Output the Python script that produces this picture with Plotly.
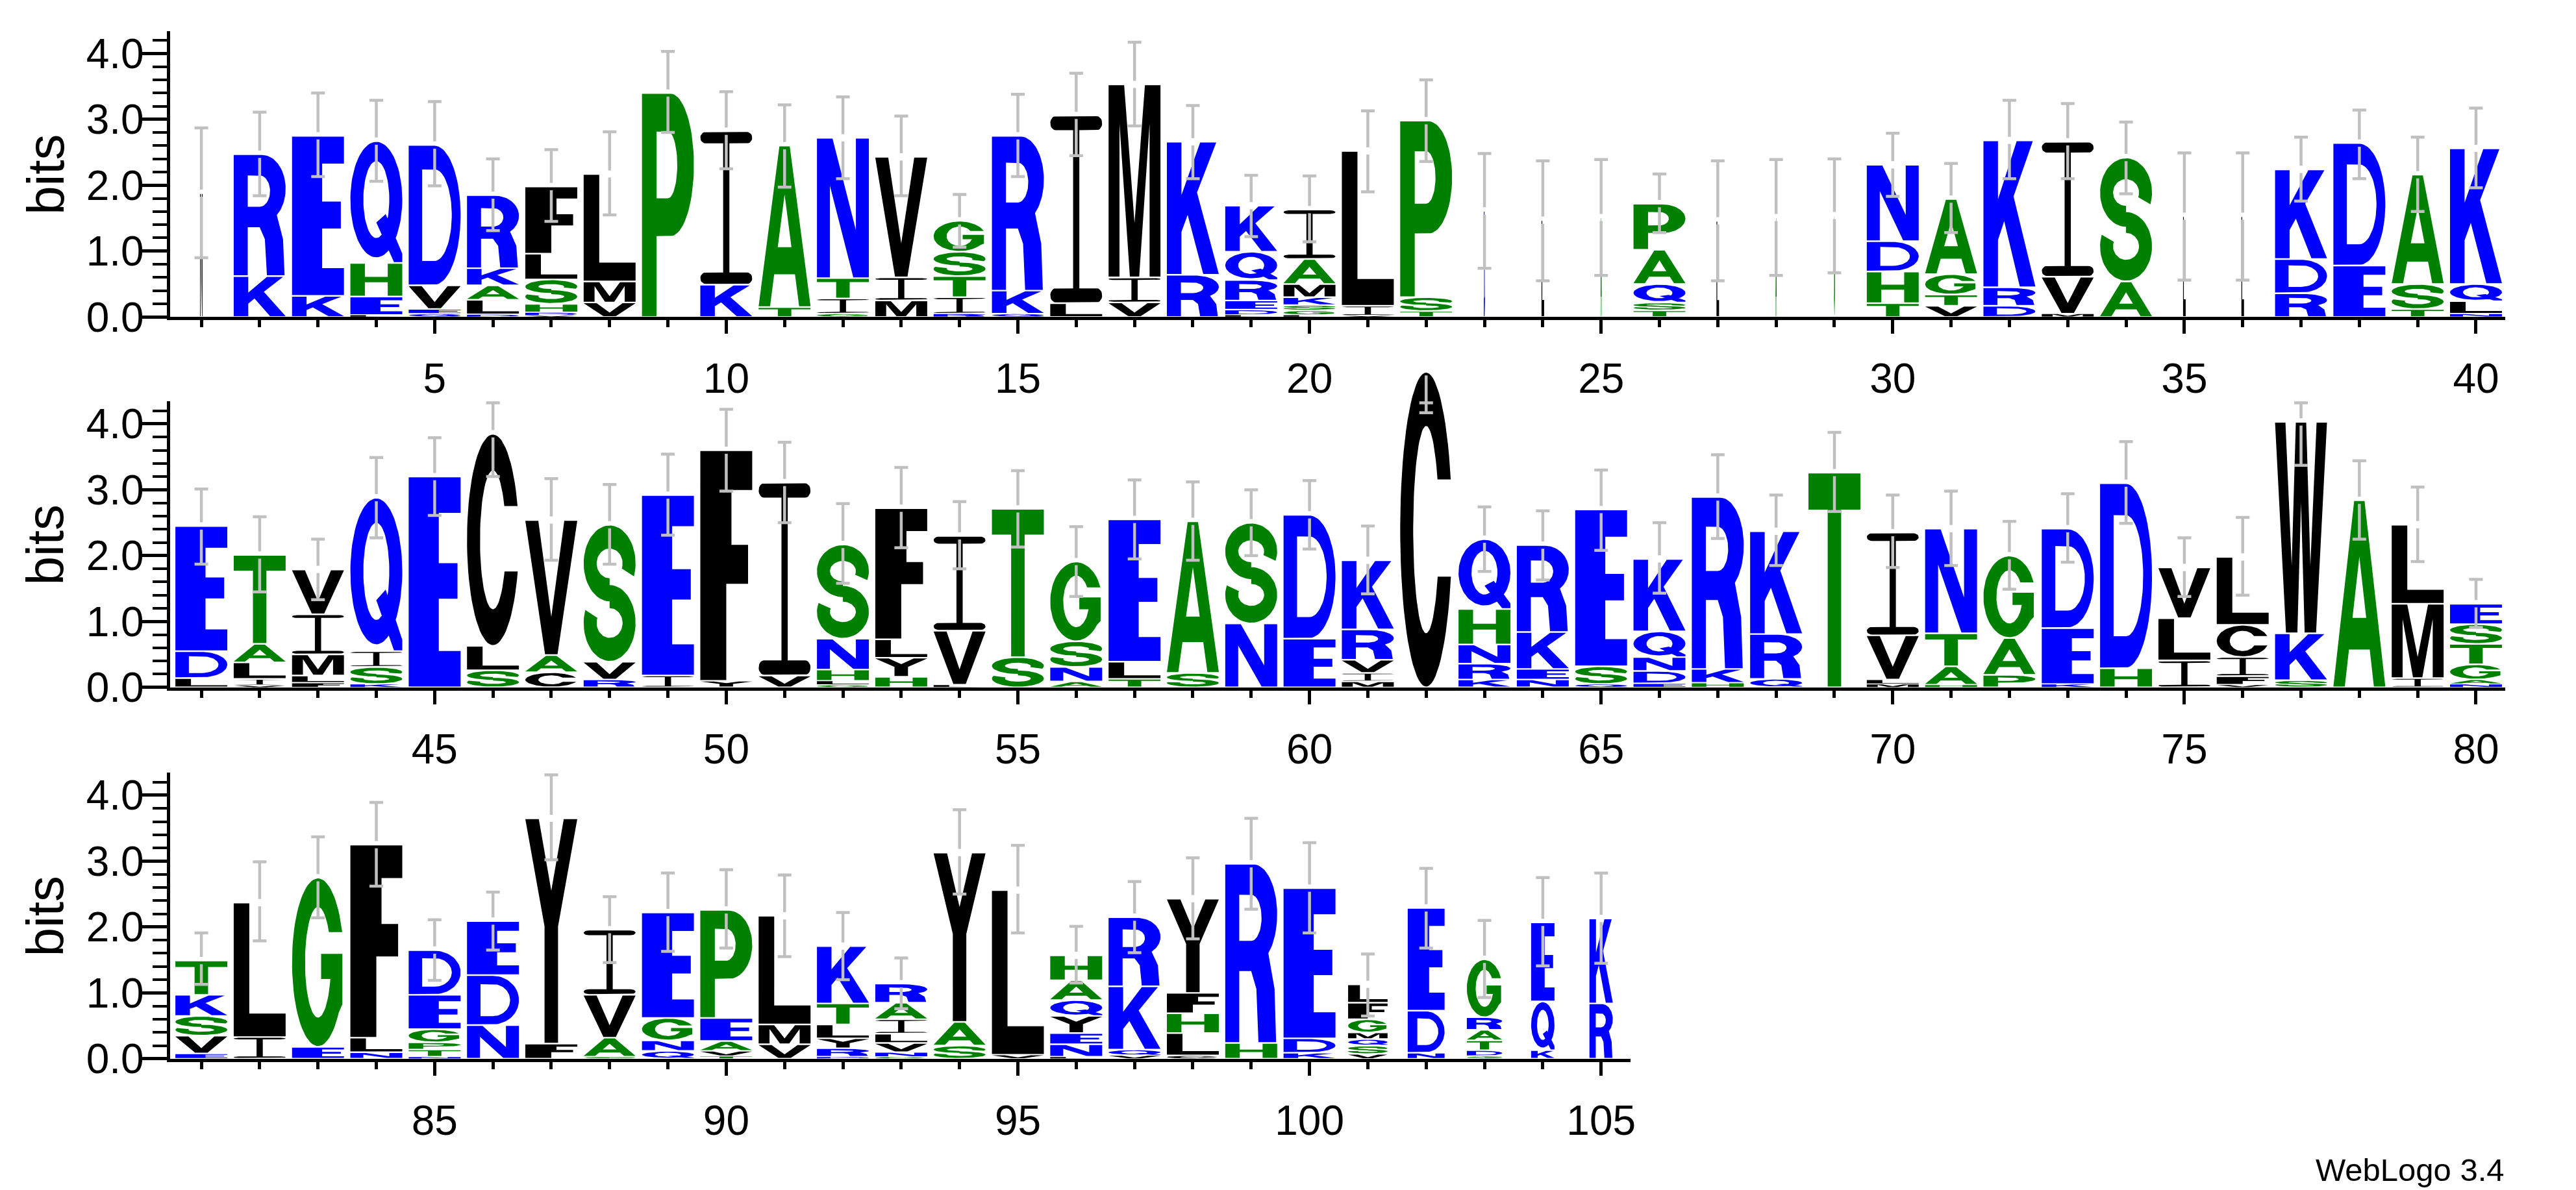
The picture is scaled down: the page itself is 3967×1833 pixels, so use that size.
import numpy as np
import plotly.graph_objects as go

# Sequence logo.
# Each stack: letters from bottom to top, with the height (bits) of each letter.
stack_letters = [
    "M", "KR", "KE", "LEHQ", "QEVD", "DLAKR", "VDHSLF", "VML", "P", "KI",
    "TA", "GITN", "MIV", "RITSG", "QKR", "LI", "VIM", "RK", "LDERQK", "LGSKMAI",
    "VIL", "TSP", "D", "L", "A", "TSQAP", "L", "A", "G", "THDN",
    "VTGA", "DRK", "MVI", "AS", "L", "L", "RDK", "ED", "TSA", "NLQK",
    "LDE", "VILAT", "FLMIV", "KSIQ", "E", "SLC", "CAV", "RVS", "IE", "YF",
    "VI", "GLHNS", "HYLF", "LVI", "ST", "ANSG", "TLE", "SA", "NS", "ED",
    "MIVRK", "C", "KRNHQ", "NEKR", "QSE", "EDNQK", "HKR", "QRK", "T", "MLVI",
    "HATN", "PAG", "KED", "HD", "ILV", "VFICL", "SKW", "A", "IML", "NAGTSE",
    "EVSKT", "IL", "EG", "NLF", "NTPGED", "NDE", "FY", "SAVI", "QNGE", "TVAEP",
    "VML", "DRYLTK", "GNVLIAR", "SAY", "VL", "LNEYQAH", "VQKR", "CLHFY", "HR", "KDE",
    "VSQMGFL", "NDE", "SDTARG", "KQE", "RK",
]

stack_heights = [
    [1.88], [0.62, 1.85], [0.32, 2.43], [0.03, 0.28, 0.51, 1.85], [0.05, 0.07, 0.36, 2.13],
    [0.04, 0.22, 0.22, 0.26, 1.11], [0.02, 0.05, 0.13, 0.37, 0.39, 1.02], [0.22, 0.32, 1.63],
    [3.40], [0.49, 2.33],
    [0.15, 2.45], [0.05, 0.23, 0.31, 2.13], [0.25, 0.35, 1.83], [0.05, 0.25, 0.32, 0.37, 0.47],
    [0.05, 0.35, 2.35], [0.21, 2.85], [0.22, 0.38, 2.93], [0.64, 2.02],
    [0.03, 0.08, 0.14, 0.31, 0.43, 0.70], [0.03, 0.07, 0.08, 0.12, 0.20, 0.38, 0.75],
    [0.02, 0.15, 2.35], [0.09, 0.21, 2.68], [1.61], [1.47], [1.51],
    [0.10, 0.12, 0.28, 0.52, 0.70], [1.46], [1.51], [1.54], [0.21, 0.48, 0.46, 1.16],
    [0.17, 0.17, 0.31, 1.14], [0.17, 0.28, 2.23], [0.05, 0.56, 2.05], [0.54, 1.88], [1.53],
    [1.53], [0.36, 0.52, 1.36], [0.78, 1.86], [0.12, 0.38, 1.66], [0.05, 0.19, 0.26, 2.06],
    [0.14, 0.41, 1.90], [0.03, 0.10, 0.25, 0.28, 1.35], [0.07, 0.11, 0.32, 0.61, 0.68],
    [0.05, 0.26, 0.24, 2.33], [3.20], [0.26, 0.37, 3.22], [0.23, 0.26, 2.05], [0.12, 0.27, 2.08],
    [0.18, 2.74], [0.10, 3.50],
    [0.18, 2.93], [0.04, 0.06, 0.17, 0.47, 1.43], [0.16, 0.29, 0.28, 1.99], [0.04, 0.82, 1.44],
    [0.46, 2.25], [0.09, 0.22, 0.39, 1.21], [0.13, 0.26, 2.16], [0.22, 2.30], [0.97, 1.53],
    [0.74, 1.88],
    [0.09, 0.13, 0.20, 0.46, 1.05], [4.79], [0.12, 0.24, 0.29, 0.54, 1.06], [0.12, 0.16, 0.56, 1.32],
    [0.05, 0.27, 2.38], [0.06, 0.19, 0.21, 0.39, 1.10], [0.07, 0.21, 2.61], [0.13, 0.68, 1.56],
    [3.26], [0.05, 0.07, 0.67, 1.56],
    [0.04, 0.28, 0.50, 1.59], [0.19, 0.56, 1.25], [0.05, 0.85, 1.51], [0.29, 2.81],
    [0.41, 0.64, 0.77], [0.04, 0.13, 0.29, 0.49, 1.03], [0.11, 0.71, 3.21], [2.84],
    [0.14, 1.13, 1.20], [0.05, 0.07, 0.23, 0.31, 0.30, 0.31],
    [0.08, 0.27, 0.30, 0.32, 0.52], [0.33, 2.04], [0.18, 2.57], [0.10, 0.22, 2.93],
    [0.03, 0.11, 0.11, 0.20, 0.52, 0.68], [0.51, 0.76, 0.82], [0.23, 3.42], [0.03, 0.29, 0.65, 0.99],
    [0.12, 0.16, 0.34, 1.60], [0.04, 0.08, 0.15, 0.35, 1.64],
    [0.22, 0.30, 1.65], [0.03, 0.13, 0.15, 0.21, 0.32, 0.87], [0.03, 0.07, 0.14, 0.14, 0.22, 0.25, 0.29],
    [0.20, 0.36, 2.57], [0.06, 2.50], [0.03, 0.19, 0.17, 0.26, 0.24, 0.30, 0.38],
    [0.05, 0.09, 0.96, 1.05], [0.05, 0.34, 0.30, 0.31, 1.43], [0.24, 2.72], [0.09, 0.22, 2.28],
    [0.07, 0.13, 0.10, 0.10, 0.20, 0.25, 0.28], [0.09, 0.64, 1.56], [0.04, 0.09, 0.15, 0.16, 0.19, 0.88],
    [0.13, 0.74, 1.20], [0.84, 1.29],
]

# relative stack width (gappy columns are drawn narrower)
stack_widths = [
    0.05, 1, 1, 1, 1, 1, 1, 1, 1, 1,
    1, 1, 1, 1, 1, 1, 1, 1, 1, 1,
    1, 1, 0.025, 0.05, 0.025, 1, 0.05, 0.025, 0.025, 1,
    1, 1, 1, 1, 0.05, 0.05, 1, 1, 1, 1,
    1, 1, 1, 1, 1, 1, 1, 1, 1, 1,
    1, 1, 1, 1, 1, 1, 1, 1, 1, 1,
    1, 1, 1, 1, 1, 1, 1, 1, 1, 1,
    1, 1, 1, 1, 1, 1, 1, 1, 1, 1,
    1, 1, 1, 1, 1, 1, 1, 1, 1, 1,
    1, 1, 1, 1, 1, 1, 1, 1, 1, 1,
    0.76, 0.71, 0.68, 0.45, 0.45,
]

err_low = [
    0.90, 1.84, 2.13, 2.06, 1.99, 1.31, 1.45, 1.55, 2.80, 2.25,
    1.97, 2.10, 1.84, 1.06, 2.13, 2.45, 2.90, 2.10, 1.22, 1.14,
    1.90, 2.36, 0.74, 0.55, 0.63, 1.28, 0.55, 0.63, 0.67, 1.83,
    1.28, 2.10, 2.10, 1.87, 0.56, 0.56, 1.76, 2.10, 1.60, 1.96,
    1.87, 1.45, 1.33, 2.27, 2.61, 3.20, 1.93, 1.87, 2.31, 2.98,
    2.50, 1.58, 2.12, 1.80, 2.13, 1.38, 1.95, 1.93, 2.00, 2.10,
    1.42, 4.17, 1.76, 1.63, 2.08, 1.43, 2.26, 1.85, 2.67, 1.82,
    1.85, 1.49, 1.90, 2.49, 1.38, 1.40, 3.37, 2.25, 1.91, 0.91,
    1.13, 1.79, 2.14, 2.62, 1.19, 1.65, 3.02, 1.46, 1.63, 1.68,
    1.55, 1.20, 0.76, 2.50, 1.91, 1.15, 1.61, 1.82, 2.27, 1.91,
    0.65, 1.68, 0.93, 1.41, 1.45,
]
err_high = [
    2.87, 3.11, 3.40, 3.29, 3.27, 2.40, 2.54, 2.81, 4.03, 3.42,
    3.22, 3.34, 3.05, 1.86, 3.38, 3.70, 4.17, 3.21, 2.15, 2.14,
    3.13, 3.60, 2.48, 2.37, 2.39, 2.17, 2.37, 2.39, 2.40, 2.79,
    2.33, 3.29, 3.24, 2.96, 2.49, 2.49, 2.73, 3.14, 2.73, 3.17,
    3.01, 2.59, 2.25, 3.49, 3.79, 4.32, 3.17, 3.08, 3.54, 4.22,
    3.72, 2.79, 3.34, 2.82, 3.29, 2.44, 3.15, 3.12, 3.00, 3.14,
    2.45, 4.32, 2.74, 2.68, 3.30, 2.50, 3.53, 2.92, 3.87, 2.92,
    2.98, 2.52, 2.94, 3.73, 2.27, 2.58, 4.32, 3.44, 3.04, 1.64,
    1.91, 2.99, 3.37, 3.89, 2.11, 2.53, 4.31, 2.46, 2.82, 2.87,
    2.79, 2.22, 1.53, 3.78, 3.24, 2.01, 2.69, 3.05, 3.65, 3.28,
    1.59, 2.89, 2.10, 2.75, 2.82,
]

# WebLogo "hydrophobicity" colour scheme
COLORS = {"#0000ff": "RKDENQ", "#008000": "SGHTAP", "#000000": "YVMCLFIW"}
letter_color = {ch: c for c, group in COLORS.items() for ch in group}

# ---------------- glyph outlines in a unit box ----------------
pi = np.pi
asin = np.arcsin


def arc(cx, cy, rx, ry, a0, a1, n=40):
    t = np.linspace(a0, a1, n)
    return list(zip(cx + rx * np.cos(t), cy + ry * np.sin(t)))


def band(cx, cy, rxo, ryo, rxi, ryi, a0, a1, n=50):
    return arc(cx, cy, rxo, ryo, a0, a1, n) + arc(cx, cy, rxi, ryi, a1, a0, n)


def signed_area(ring):
    x = np.array([p[0] for p in ring])
    y = np.array([p[1] for p in ring])
    return 0.5 * np.sum(x * np.roll(y, -1) - np.roll(x, -1) * y)


def shape(outer, *holes):
    # outer rings counter-clockwise, holes clockwise -> holes under either fill rule
    rings = [outer if signed_area(outer) > 0 else outer[::-1]]
    for h in holes:
        rings.append(h if signed_area(h) < 0 else h[::-1])
    return rings


def glyph_I(bt=0.075, rx=0.1, s0=0.44, s1=0.56):
    r = [(rx, 0), (1 - rx, 0)]
    r += arc(1 - rx, bt / 2, rx, bt / 2, -pi / 2, pi / 2, 12)[1:-1]
    r += [(1 - rx, bt), (s1, bt), (s1, 1 - bt), (1 - rx, 1 - bt)]
    r += arc(1 - rx, 1 - bt / 2, rx, bt / 2, -pi / 2, pi / 2, 12)[1:-1]
    r += [(1 - rx, 1), (rx, 1)]
    r += arc(rx, 1 - bt / 2, rx, bt / 2, pi / 2, 1.5 * pi, 12)[1:-1]
    r += [(rx, 1 - bt), (s0, 1 - bt), (s0, bt), (rx, bt)]
    r += arc(rx, bt / 2, rx, bt / 2, pi / 2, 1.5 * pi, 12)[1:-1]
    return [shape(r)]


GLYPHS = {
    "A": [shape([(0, 0), (0.22, 0), (0.30, 0.2), (0.70, 0.2), (0.78, 0), (1, 0), (0.6, 1), (0.4, 1)],
                [(0.368, 0.37), (0.632, 0.37), (0.5, 0.70)])],
    "C": [shape(arc(.5, .5, .5, .5, asin(0.32), 2 * pi - asin(0.30), 70)
                + arc(.5, .5, .25, .33, 2 * pi - asin(0.15 / 0.33), asin(0.16 / 0.33), 70))],
    "D": [shape([(0, 0), (0.5, 0)] + arc(.5, .5, .5, .5, -pi / 2, pi / 2) + [(0, 1)],
                [(0.26, 0.17), (0.5, 0.17)] + arc(.5, .5, .33, .33, -pi / 2, pi / 2) + [(0.26, 0.83)])],
    "E": [shape([(0, 0), (1, 0), (1, 0.17), (0.58, 0.17), (0.58, 0.42), (0.94, 0.42), (0.94, 0.59),
                 (0.58, 0.59), (0.58, 0.83), (1, 0.83), (1, 1), (0, 1)])],
    "F": [shape([(0, 0), (0.50, 0), (0.50, 0.42), (0.92, 0.42), (0.92, 0.59), (0.60, 0.59),
                 (0.60, 0.83), (1, 0.83), (1, 1), (0, 1)])],
    "G": [shape(arc(.5, .5, .5, .5, asin(0.36), 2 * pi - asin(0.6), 70)
                + [(0.97, 0.25), (0.97, 0.55), (0.56, 0.55), (0.56, 0.40)]
                + arc(.5, .5, .25, .33, 2 * pi - asin(0.1 / 0.33), asin(0.18 / 0.33), 70))],
    "H": [shape([(0, 0), (0.28, 0), (0.28, 0.42), (0.72, 0.42), (0.72, 0), (1, 0), (1, 1), (0.72, 1),
                 (0.72, 0.59), (0.28, 0.59), (0.28, 1), (0, 1)])],
    "I": glyph_I(),
    "K": [shape([(0, 0), (0.28, 0), (0.28, 0.32), (0.40, 0.45), (0.70, 0), (1, 0), (0.58, 0.62),
                 (0.95, 1), (0.64, 1), (0.28, 0.60), (0.28, 1), (0, 1)])],
    "L": [shape([(0, 0), (1, 0), (1, 0.17), (0.3, 0.17), (0.3, 1), (0, 1)])],
    "M": [shape([(0, 0), (0.21, 0), (0.21, 0.80), (0.41, 0), (0.59, 0), (0.79, 0.80), (0.79, 0),
                 (1, 0), (1, 1), (0.70, 1), (0.5, 0.28), (0.30, 1), (0, 1)])],
    "N": [shape([(0, 0), (0.25, 0), (0.25, 0.66), (0.70, 0), (1, 0), (1, 1), (0.75, 1), (0.75, 0.34),
                 (0.30, 1), (0, 1)])],
    "P": [shape([(0, 0), (0.28, 0), (0.28, 0.36), (0.55, 0.36)] + arc(.55, .68, .45, .32, -pi / 2, pi / 2)
                + [(0, 1)],
                [(0.28, 0.53), (0.5, 0.53)] + arc(.5, .68, .18, .15, -pi / 2, pi / 2, 30) + [(0.28, 0.83)])],
    "Q": [shape(arc(.5, .52, .5, .48, 0, 2 * pi, 90)[:-1], arc(.5, .52, .25, .32, 0, 2 * pi, 70)[:-1]),
          shape([(0.50, 0.33), (0.68, 0.40), (1.0, 0.07), (1.0, 0.0), (0.84, 0.0)])],
    "R": [shape([(0, 0), (0.27, 0), (0.27, 0.40), (0.50, 0.40), (0.60, 0.30), (0.64, 0), (0.98, 0),
                 (0.95, 0.30)] + arc(.55, .72, .45, .28, -0.9, pi / 2) + [(0, 1)],
                [(0.27, 0.57), (0.5, 0.57)] + arc(.5, .70, .2, .13, -pi / 2, pi / 2, 30) + [(0.27, 0.83)])],
    "S": [shape(band(.5, .72, .5, .28, .25, .11, -0.35, 1.5 * pi)),
          shape(band(.5, .28, .5, .28, .25, .11, 0.5 * pi, -pi - 0.35))],
    "T": [shape([(0, 1), (0, 0.83), (0.37, 0.83), (0.37, 0), (0.63, 0), (0.63, 0.83), (1, 0.83), (1, 1)])],
    "V": [shape([(0, 1), (0.38, 0), (0.62, 0), (1, 1), (0.75, 1), (0.5, 0.28), (0.25, 1)])],
    "W": [shape([(0, 1), (0.21, 0), (0.43, 0), (0.5, 0.62), (0.57, 0), (0.79, 0), (1, 1), (0.80, 1),
                 (0.68, 0.32), (0.60, 1), (0.40, 1), (0.32, 0.32), (0.20, 1)])],
    "Y": [shape([(0.37, 0), (0.63, 0), (0.63, 0.52), (1, 1), (0.74, 1), (0.5, 0.68), (0.26, 1), (0, 1),
                 (0.37, 0.52)])],
}

# ---------------- layout geometry (pixels of the 3967 x 1833 page) ----------------
W, H = 3967, 1833
PX_PER_POS = 90.0
PX_PER_BIT = 103.5
Y_MAX = 4.34
AXIS_LEFT_PX = 263
rows = [(1, 40, 498.0), (41, 80, 1080.0), (81, 105, 1663.5)]  # first, last, zero-line px
EXTRA = 0.026  # extra paper height for letters that overshoot the axis top
COL_W = 0.89   # letter width as a fraction of column pitch
ERR_GAP = 0.055
CAP_HALF = 0.117
FONT = "Liberation Sans, Arial, Helvetica, sans-serif"

fig = go.Figure()
layout = {}
annotations = []

for r, (first, last, zero_px) in enumerate(rows):
    n = r + 1
    xa, ya, la = f"x{n if n > 1 else ''}", f"y{n if n > 1 else ''}", f"y{n + 3}"
    x_lo, x_hi = first - 0.53, last + 0.5
    xd0 = AXIS_LEFT_PX / W
    xd1 = (AXIS_LEFT_PX + (x_hi - x_lo) * PX_PER_POS) / W
    yd0 = 1 - zero_px / H
    yd1 = 1 - (zero_px - Y_MAX * PX_PER_BIT) / H
    ld1 = min(yd1 + EXTRA, 1.0)

    layout[f"xaxis{n if n > 1 else ''}"] = dict(
        domain=[xd0, xd1], range=[x_lo, x_hi], anchor=ya,
        showline=True, linewidth=5, linecolor="black", showgrid=False, zeroline=False,
        ticks="outside", tick0=0, dtick=5, ticklen=21, tickwidth=5, tickcolor="black",
        ticklabelstandoff=14,
        tickfont=dict(family=FONT, size=64, color="black"),
        minor=dict(ticks="outside", tick0=0, dtick=1, ticklen=11, tickwidth=5, tickcolor="black"),
        fixedrange=True,
    )
    layout[f"yaxis{n if n > 1 else ''}"] = dict(
        domain=[yd0, yd1], range=[0, Y_MAX], anchor=xa,
        showline=True, linewidth=5, linecolor="black", showgrid=False, zeroline=False,
        ticks="outside", tick0=0, dtick=1, tickformat=".1f", ticklen=41, tickwidth=5,
        tickcolor="black", ticklabelstandoff=-18,
        tickfont=dict(family=FONT, size=64, color="black"),
        minor=dict(ticks="outside", tick0=0, dtick=0.2, ticklen=22, tickwidth=4, tickcolor="black"),
        fixedrange=True,
    )
    # invisible, taller twin axis that carries the letters (so tall stacks are not clipped)
    layout[f"yaxis{n + 3}"] = dict(
        domain=[yd0, ld1], range=[0, Y_MAX * (ld1 - yd0) / (yd1 - yd0)], anchor=xa,
        visible=False, fixedrange=True,
    )

    fig.add_trace(go.Scatter(x=[None], y=[None], xaxis=xa, yaxis=ya,
                             showlegend=False, hoverinfo="skip"))

    paths = {c: ([], []) for c in COLORS}
    ex, ey = [], []
    for p in range(first, last + 1):
        i = p - 1
        letters, heights = stack_letters[i], stack_heights[i]
        w = COL_W * stack_widths[i]
        base = 0.0
        for ch, h in zip(letters, heights, strict=True):
            inset = min(0.012, 0.12 * h)
            y0, y1 = base + inset, base + h - inset
            xs, ys = paths[letter_color[ch]]
            for shp in GLYPHS[ch]:
                for ring in shp:
                    for u, v in ring + ring[:1]:
                        xs.append(p - w / 2 + u * w)
                        ys.append(y0 + v * (y1 - y0))
                    xs.append(None)
                    ys.append(None)
            base += h
        top = base
        lo, hi = err_low[i], err_high[i]
        if top - ERR_GAP > lo:
            ex += [p, p, None]
            ey += [lo, top - ERR_GAP, None]
        if hi > top + ERR_GAP:
            ex += [p, p, None]
            ey += [top + ERR_GAP, hi, None]
        for yc in (lo, hi):
            ex += [p - CAP_HALF, p + CAP_HALF, None]
            ey += [yc, yc, None]

    for c, (xs, ys) in paths.items():
        fig.add_trace(go.Scatter(
            x=xs, y=ys, xaxis=xa, yaxis=la, mode="lines", fill="toself",
            fillcolor=c, line=dict(width=0, color=c), showlegend=False, hoverinfo="skip",
        ))
    fig.add_trace(go.Scatter(
        x=ex, y=ey, xaxis=xa, yaxis=la, mode="lines",
        line=dict(width=4.5, color="#c0c0c0"), showlegend=False, hoverinfo="skip",
    ))

    annotations.append(dict(
        text="bits", xref="paper", yref="paper", x=70 / W, y=(yd0 + yd1) / 2,
        textangle=-90, showarrow=False, xanchor="center", yanchor="middle",
        font=dict(family=FONT, size=80, color="black"),
    ))

annotations.append(dict(
    text="WebLogo 3.4", xref="paper", yref="paper", x=3867 / W, y=1 - 1868 / H,
    showarrow=False, xanchor="right", yanchor="bottom",
    font=dict(family=FONT, size=49, color="black"),
))

fig.update_layout(
    width=W, height=H, margin=dict(l=0, r=0, t=0, b=0),
    paper_bgcolor="white", plot_bgcolor="rgba(0,0,0,0)",
    showlegend=False, hovermode=False, annotations=annotations, **layout,
)

fig.write_html("out.html", config={"displayModeBar": False},
               post_script="document.body.style.margin='0';")
